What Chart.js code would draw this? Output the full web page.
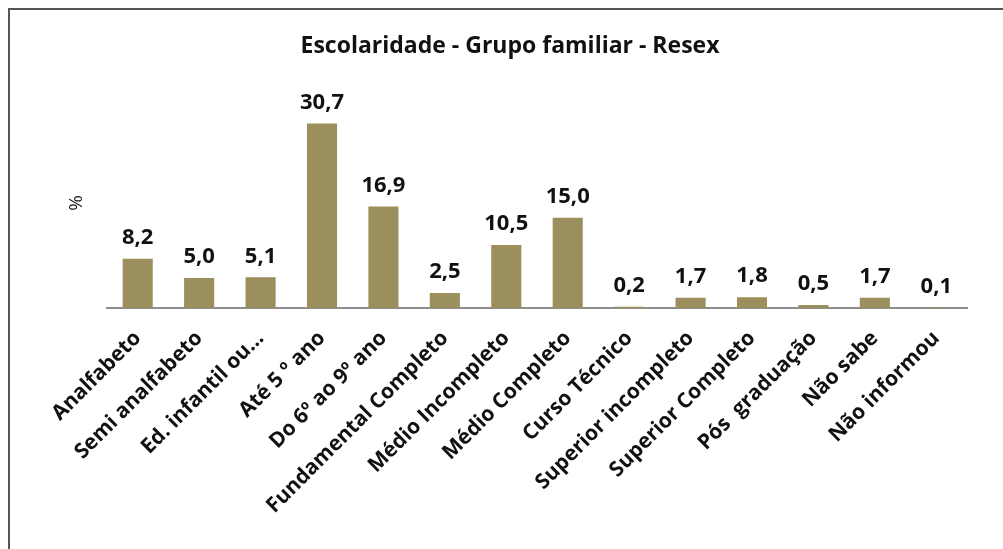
<!DOCTYPE html>
<html>
<head>
<meta charset="utf-8">
<script src="https://cdn.jsdelivr.net/npm/chart.js@4"></script>
<style>
  body { margin: 0; background: #fff; }
  #wrap { position: relative; width: 1003px; height: 549px; }
  #frame { position: absolute; left: 8px; top: 8px; right: 0; bottom: 0;
           border-left: 2px solid #555; border-top: 2px solid #555; }
  canvas { position: absolute; left: 0; top: 0; }
</style>
</head>
<body>
<div id="wrap">
  <div id="frame"></div>
  <canvas id="chart" width="1003" height="549"></canvas>
</div>
<script>
var categories = ['Analfabeto', 'Semi analfabeto', 'Ed. infantil ou...', 'Até 5 º ano', 'Do 6º ao 9º ano',
  'Fundamental Completo', 'Médio Incompleto', 'Médio Completo', 'Curso Técnico', 'Superior incompleto',
  'Superior Completo', 'Pós  graduação', 'Não sabe', 'Não informou'];
var values = [8.2, 5.0, 5.1, 30.7, 16.9, 2.5, 10.5, 15.0, 0.2, 1.7, 1.8, 0.5, 1.7, 0.1];
var valueLabels = ['8,2', '5,0', '5,1', '30,7', '16,9', '2,5', '10,5', '15,0', '0,2', '1,7', '1,8', '0,5', '1,7', '0,1'];

var fontFam = '"Open Sans", sans-serif';

// draws the value above each bar
var barLabels = {
  id: 'barLabels',
  afterDatasetsDraw: function(chart) {
    var ctx = chart.ctx;
    var meta = chart.getDatasetMeta(0);
    ctx.save();
    ctx.font = 'bold 22px ' + fontFam;
    ctx.fillStyle = '#111';
    ctx.textAlign = 'center';
    ctx.textBaseline = 'bottom';
    meta.data.forEach(function(bar, i) {
      ctx.fillText(valueLabels[i], bar.x, bar.y - 10);
    });
    ctx.restore();
  }
};

var ctx = document.getElementById('chart').getContext('2d');
var myChart = new Chart(ctx, {
  type: 'bar',
  data: {
    labels: categories,
    datasets: [{
      data: values,
      backgroundColor: '#9b8f5e',
      categoryPercentage: 1,
      barPercentage: 0.49
    }]
  },
  plugins: [barLabels],
  options: {
    responsive: false,
    animation: false,
    layout: { padding: { left: 53, right: 36, top: 25, bottom: 0 } },
    plugins: {
      legend: { display: false },
      tooltip: { enabled: false },
      title: {
        display: true,
        text: 'Escolaridade - Grupo familiar - Resex',
        color: '#111',
        font: { family: fontFam, size: 23, weight: 'bold' },
        padding: { top: 8, bottom: 37 }
      }
    },
    scales: {
      x: {
        grid: { display: false },
        border: { color: '#8e8e8e', width: 2 },
        ticks: {
          color: '#111',
          autoSkip: false,
          minRotation: 45,
          maxRotation: 45,
          padding: 10,
          font: { family: fontFam, size: 21, weight: 'bold' }
        },
        afterFit: function(scale) { scale.height = 241; }
      },
      y: {
        min: 0,
        max: 35,
        grid: { display: false },
        border: { display: false },
        ticks: { display: false },
        title: {
          display: true,
          text: '%',
          color: '#111',
          padding: { top: 12, bottom: 4 },
          font: { family: fontFam, size: 19 }
        },
        afterFit: function(scale) { scale.width = 54; }
      }
    }
  }
});
</script>
</body>
</html>
